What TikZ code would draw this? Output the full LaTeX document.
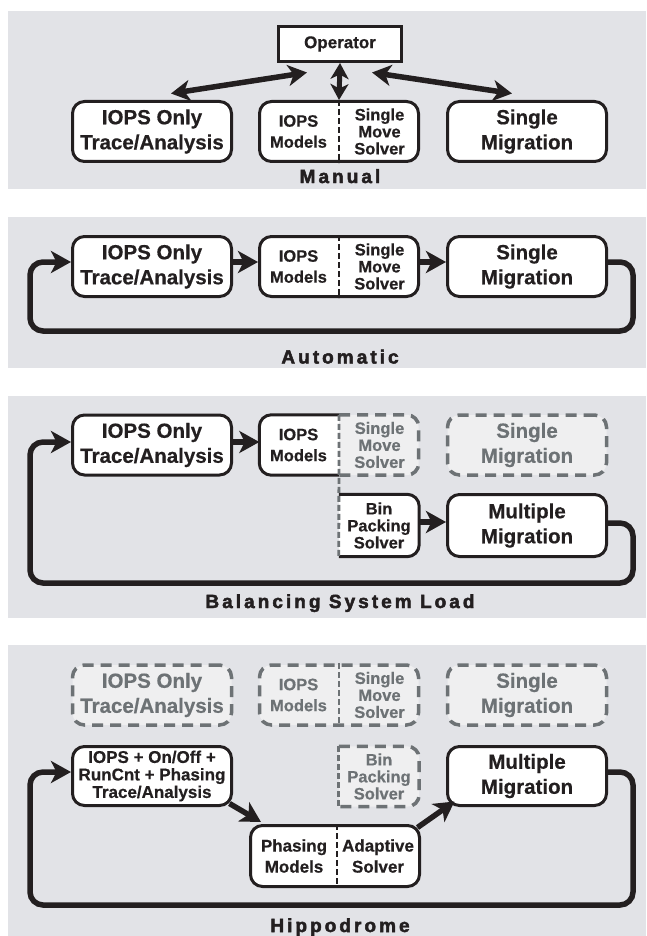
\documentclass[tikz,border=0pt]{standalone}
\usepackage{fontspec}
\setmainfont{Liberation Sans}[BoldFeatures={FakeBold=0.5}]
\newfontfamily\lblfont{Liberation Sans}[LetterSpace=16,BoldFeatures={FakeBold=2.5}]
\usetikzlibrary{arrows.meta}
\definecolor{panel}{HTML}{E2E3E7}
\definecolor{ink}{HTML}{231F20}
\definecolor{gline}{HTML}{6D7275}
\definecolor{gfill}{HTML}{EFEFF0}
\definecolor{gtext}{HTML}{6D7275}
\tikzset{
  bigf/.style={font=\bfseries\fontsize{20.5}{25}\selectfont},
  midf/.style={font=\bfseries\fontsize{16.5}{21}\selectfont},
  tightf/.style={font=\bfseries\fontsize{16.5}{17}\selectfont},
  box/.style={rounded corners=12pt, minimum width=159pt, minimum height=60pt, inner sep=0pt, align=center},
  blk/.style={box, draw=ink, line width=3pt, fill=white, text=ink},
  ghost/.style={box, draw=gline, line width=3.5pt, dash pattern=on 11pt off 7pt, fill=gfill, text=gtext},
  ghostline/.style={draw=gline, line width=3.5pt, dash pattern=on 11pt off 7pt, fill=gfill, rounded corners=12pt},
  blkline/.style={draw=ink, line width=3pt, fill=white, rounded corners=12pt},
  divb/.style={draw=ink, line width=2.8pt, dash pattern=on 6pt off 3pt},
  divg/.style={draw=gline, line width=2.8pt, dash pattern=on 6pt off 3pt},
  conn/.style={draw=ink, line width=5.5pt, -{Stealth[length=20pt,width=22pt,inset=5.5pt]}},
  biconn/.style={draw=ink, line width=5.5pt, {Stealth[length=19pt,width=21pt,inset=5.5pt]}-{Stealth[length=19pt,width=21pt,inset=5.5pt]}},
  shortbi/.style={draw=ink, line width=5pt, {Stealth[length=16pt,width=18pt,inset=4.5pt]}-{Stealth[length=16pt,width=18pt,inset=4.5pt]}},
  looppath/.style={conn, rounded corners=13pt},
  lbl/.style={font=\lblfont\bfseries\fontsize{19}{20}\selectfont, text=ink, anchor=base, inner sep=0pt},
  txt/.style={text=ink, align=center, inner sep=0pt},
  gtxt/.style={text=gtext, align=center, inner sep=0pt},
}
\begin{document}
\begin{tikzpicture}[x=1pt,y=-1pt]
\useasboundingbox (0,0) rectangle (646,936);
% panels
\fill[panel] (8,11) rectangle (646,189);
\fill[panel] (8,217) rectangle (646,368);
\fill[panel] (8,396) rectangle (646,618);
\fill[panel] (8,645) rectangle (646,936);

% ===== Panel 1: Manual
\node[blk, minimum width=123pt, minimum height=35pt, rounded corners=0pt, font=\bfseries\fontsize{17}{20}\selectfont] (op) at (340,44) {Operator};
\node[blk, bigf] (a1) at (152,131.5) {IOPS Only\\Trace/Analysis};
\node[blk] (b1) at (339,131.5) {};
\draw[divb] (b1.north) -- (b1.south);
\node[txt, midf] (b1l) at (298.5,131.5) {IOPS\\Models};
\node[txt, tightf] (b1r) at (379.5,131.5) {Single\\Move\\Solver};
\node[blk, bigf] (c1) at (527,131.5) {Single\\Migration};
\draw[biconn] ([shift={(-33pt,-9.5pt)}]op.south) -- ([shift={(19pt,6.5pt)}]a1.north);
\draw[biconn] ([shift={(32pt,-9.5pt)}]op.south) -- ([shift={(-15pt,6.5pt)}]c1.north);
\draw[shortbi] (op.south) -- (b1.north);
\node[lbl] (l1) at (340,183) {Manual};

% ===== Panel 2: Automatic
\node[blk, bigf] (a2) at (152,266.5) {IOPS Only\\Trace/Analysis};
\node[blk] (b2) at (339,266.5) {};
\draw[divb] (b2.north) -- (b2.south);
\node[txt, midf] (b2l) at (298.5,266.5) {IOPS\\Models};
\node[txt, tightf] (b2r) at (379.5,266.5) {Single\\Move\\Solver};
\node[blk, bigf] (c2) at (527,266.5) {Single\\Migration};
\draw[conn] ([yshift=4.5pt]a2.east) -- ([yshift=4.5pt]b2.west);
\draw[conn] ([yshift=4.5pt]b2.east) -- ([yshift=4.5pt]c2.west);
\coordinate (r2) at (633,331);
\coordinate (l2) at (30,331);
\draw[looppath] ([yshift=4.5pt]c2.east) -| (r2) -- (l2) |- ([yshift=4.5pt]a2.west);
\node[lbl] (lb2) at (340,363.5) {Automatic};

% ===== Panel 3: Balancing System Load
\node[blk, bigf] (a3) at (152,445) {IOPS Only\\Trace/Analysis};
\node[box] (b3) at (339,445) {};
\node[box, minimum width=80pt, minimum height=62pt] (bin3) at (379,525.5) {};
\filldraw[blkline] (b3.north) -| (b3.south west) -- (b3.south);
\filldraw[ghostline] (b3.north) -| (b3.south east) -- (b3.south);
\filldraw[blkline] (bin3.north west) -| (bin3.south east) -- (bin3.south west);
\draw[divg] (b3.north) -- (bin3.south west);
\node[txt, midf] (b3l) at (298.5,445) {IOPS\\Models};
\node[gtxt, tightf] (b3r) at (379.5,445) {Single\\Move\\Solver};
\node[txt, tightf] (bin3t) at (bin3) {Bin\\Packing\\Solver};
\node[ghost, bigf] (c3) at (527,445) {Single\\Migration};
\node[blk, bigf, minimum height=62pt] (m3) at (527,525.5) {Multiple\\Migration};
\draw[conn] ([yshift=3pt]a3.east) -- ([yshift=3pt]b3.west);
\draw[conn] ([yshift=3.5pt]bin3.east) -- ([yshift=3.5pt]m3.west);
\coordinate (r3) at (633,583);
\coordinate (l3) at (30,583);
\draw[looppath] ([yshift=2.5pt]m3.east) -| (r3) -- (l3) |- ([yshift=3pt]a3.west);
\node[lbl] (lb3) at (340,608) {Balancing System Load};

% ===== Panel 4: Hippodrome
\node[ghost, bigf] (ga) at (152,695) {IOPS Only\\Trace/Analysis};
\node[ghost] (gb) at (339,695) {};
\draw[divg] (gb.north) -- (gb.south);
\node[gtxt, midf] (gbl) at (298.5,695) {IOPS\\Models};
\node[gtxt, tightf] (gbr) at (379.5,695) {Single\\Move\\Solver};
\node[ghost, bigf] (gc) at (527,695) {Single\\Migration};
\node[blk, minimum height=59pt, font=\bfseries\fontsize{17}{17.5}\selectfont] (p4) at (152,776) {IOPS + On/Off +\\RunCnt + Phasing\\Trace/Analysis};
\node[box, minimum width=80pt, minimum height=60pt] (bin4) at (379,776.5) {};
\filldraw[ghostline] (bin4.north west) -| (bin4.south east) -- (bin4.south west);
\draw[divg] (bin4.north west) -- (bin4.south west);
\node[gtxt, tightf] (bin4t) at (bin4) {Bin\\Packing\\Solver};
\node[blk, bigf, minimum height=59pt] (m4) at (527,776) {Multiple\\Migration};
\node[blk, minimum width=169pt, minimum height=61pt] (ph) at (335,856) {};
\draw[divb] ([xshift=2pt]ph.north) -- ([xshift=2pt]ph.south);
\node[txt, font=\bfseries\fontsize{17}{21}\selectfont] (phl) at (294,856) {Phasing\\Models};
\node[txt, font=\bfseries\fontsize{17}{21}\selectfont] (phr) at (378,856) {Adaptive\\Solver};
\draw[conn] ([shift={(-3.5pt,3.5pt)}]p4.south east) -- ([shift={(12pt,2pt)}]ph.north west);
\draw[conn] ([shift={(-3.5pt,-3.5pt)}]ph.north east) -- ([shift={(8.5pt,5.5pt)}]m4.south west);
\coordinate (r4) at (633,905);
\coordinate (l4) at (30,905);
\draw[looppath] ([yshift=4pt]m4.east) -| (r4) -- (l4) |- ([yshift=4pt]p4.west);
\node[lbl] (lb4) at (340,932) {Hippodrome};
\end{tikzpicture}
\end{document}
